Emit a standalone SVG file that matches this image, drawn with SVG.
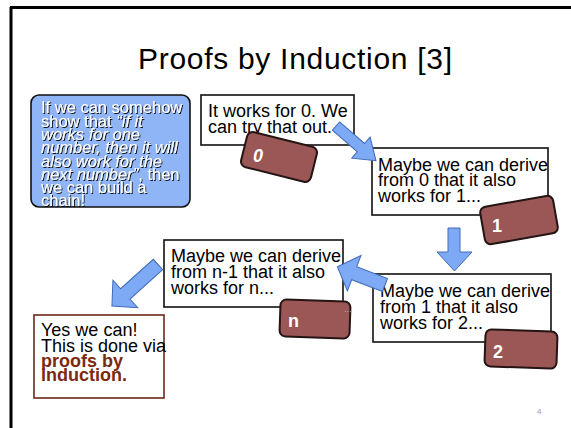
<svg xmlns="http://www.w3.org/2000/svg" width="571" height="428" viewBox="0 0 571 428">
<defs>
<style>
.t{font-family:"Liberation Sans",Arial,sans-serif;font-size:18px;fill:#000}
.bt{font-family:"Liberation Sans",Arial,sans-serif;font-size:16.5px;fill:#fff}
.box{fill:#fff;stroke:#111;stroke-width:1.6}
.badge{fill:#9a5755;stroke:#241414;stroke-width:2}
.bl{font-family:"Liberation Sans",Arial,sans-serif;font-size:18px;font-weight:bold;fill:#fff}
.arr{fill:#7ea9f4;stroke:#3f6cb8;stroke-width:1}
</style>
<filter id="sh" x="-10%" y="-10%" width="120%" height="130%">
<feDropShadow dx="1" dy="1" stdDeviation="0.4" flood-color="#000" flood-opacity="0.9"/>
</filter>
</defs>
<rect width="571" height="428" fill="#fff"/>
<path d="M10 7.5H571M11 7V428" stroke="#000" stroke-width="3" fill="none"/>
<text x="138" y="69" class="t" style="font-size:30px" textLength="314">Proofs by Induction [3]</text>

<g id="intro">
<rect x="31" y="95" width="159" height="112" rx="8" fill="#8fb5f7" stroke="#111" stroke-width="1.6"/>
<g filter="url(#sh)" class="bt">
<text x="41" y="113">If we can somehow</text>
<text x="41" y="126.5">show that <tspan font-style="italic">“if it</tspan></text>
<text x="41" y="140" font-style="italic">works for one</text>
<text x="41" y="153" font-style="italic">number, then it will</text>
<text x="41" y="166.5" font-style="italic">also work for the</text>
<text x="41" y="180"><tspan font-style="italic">next number”</tspan>, then</text>
<text x="41" y="193">we can build a</text>
<text x="41" y="206">chain!</text>
</g>
</g>

<g id="step0">
<rect class="box" x="201" y="95" width="153" height="50"/>
<text class="t" x="208" y="117">It works for 0. We</text>
<text class="t" x="208" y="133">can try that out.</text>
<rect class="badge" x="-36" y="-18" width="72" height="36" rx="6" transform="translate(279,157) rotate(14)"/>
<text class="bl" x="253" y="162" font-style="italic">0</text>
</g>

<g id="step1">
<rect class="box" x="372" y="148" width="176" height="67"/>
<text class="t" x="378" y="171">Maybe we can derive</text>
<text class="t" x="378" y="186">from 0 that it also</text>
<text class="t" x="378" y="202">works for 1...</text>
<rect class="badge" x="-37" y="-19" width="74" height="38" rx="6" transform="translate(519,220) rotate(-10)"/>
<text class="bl" x="492" y="232">1</text>
</g>

<g id="step2">
<rect class="box" x="373" y="274" width="178" height="68"/>
<text class="t" x="380" y="297">Maybe we can derive</text>
<text class="t" x="380" y="313">from 1 that it also</text>
<text class="t" x="380" y="329">works for 2...</text>
<rect class="badge" x="-36" y="-18.5" width="72" height="37" rx="6" transform="translate(521,349) rotate(2)"/>
<text class="bl" x="493" y="358">2</text>
</g>

<g id="stepn">
<rect class="box" x="164" y="240" width="179" height="67"/>
<text class="t" x="171" y="262">Maybe we can derive</text>
<text class="t" x="171" y="278">from n-1 that it also</text>
<text class="t" x="171" y="294">works for n...</text>
<rect class="badge" x="-35" y="-18.5" width="70" height="37" rx="6" transform="translate(315,319) rotate(2)"/>
<text class="bl" x="288" y="327">n</text>
<text x="344" y="312" font-family="Liberation Sans,Arial,sans-serif" font-size="8" fill="#ddd">…</text>
</g>

<g id="conclusion">
<rect x="34" y="315" width="130" height="83" fill="#fff" stroke="#6b2a1a" stroke-width="1.6"/>
<text class="t" x="41" y="336">Yes we can!</text>
<text class="t" x="41" y="352">This is done via</text>
<text class="t" x="41" y="367" font-weight="bold" style="fill:#7a2a10">proofs by</text>
<text class="t" x="41" y="381" font-weight="bold" style="fill:#7a2a10">induction.</text>
</g>

<g id="connectors">
<polygon class="arr" points="0,-5.5 33,-5.5 33,-14 53,0 33,14 33,5.5 0,5.5" transform="translate(336,126) rotate(41)"/>
<polygon class="arr" points="448,228 460,228 460,252 472,252 454.5,271 437,252 448,252"/>
<polygon class="arr" points="0,-7 33,-7 33,-19 51,0 33,19 33,7 0,7" transform="translate(385,285) rotate(201)"/>
<polygon class="arr" points="0,-7 44,-7 44,-18.5 62,0 44,18.5 44,7 0,7" transform="translate(158,264.5) rotate(138)"/>
</g>

<text x="537" y="414" font-family="Liberation Sans,Arial,sans-serif" font-size="8" fill="#999">4</text>
</svg>
